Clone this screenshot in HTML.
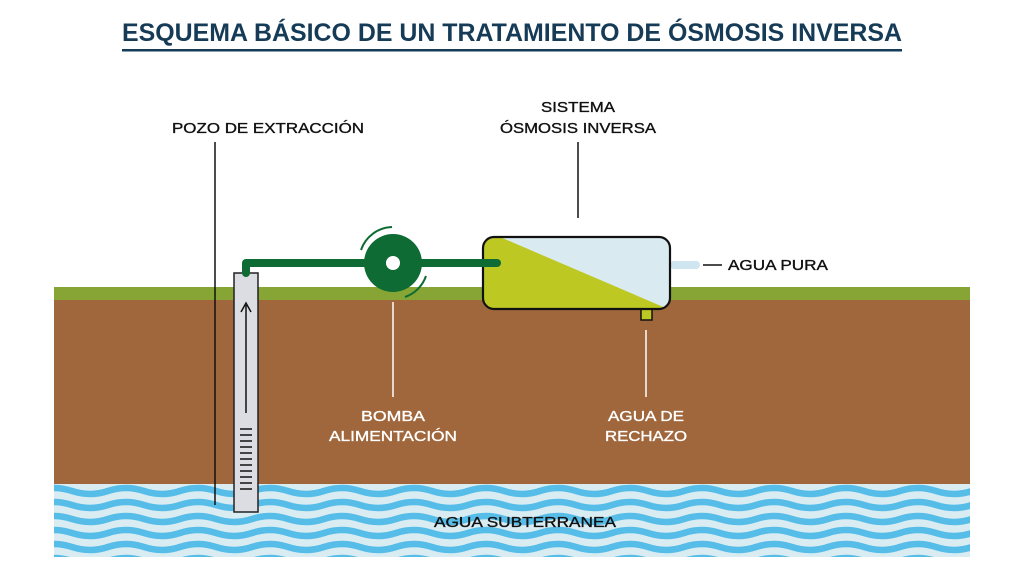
<!DOCTYPE html>
<html><head><meta charset="utf-8"><style>
body{margin:0;background:#fff}
svg{display:block}
text{font-family:"Liberation Sans",sans-serif}
.l{font-size:15px;stroke-width:0.35px}
</style></head><body>
<svg width="1024" height="576" viewBox="0 0 1024 576" xmlns="http://www.w3.org/2000/svg">
<defs>
<pattern id="wave" x="0" y="484" width="72" height="14" patternUnits="userSpaceOnUse">
<path d="M-36 7 Q-18 1 0 7 T36 7 T72 7 T108 7" fill="none" stroke="#56bce8" stroke-width="6.5"/>
</pattern>
</defs>
<text x="512" y="41" text-anchor="middle" font-size="25" font-weight="bold" fill="#163b57" textLength="780" lengthAdjust="spacingAndGlyphs">ESQUEMA BÁSICO DE UN TRATAMIENTO DE ÓSMOSIS INVERSA</text>
<rect x="122" y="49" width="780" height="2.5" fill="#163b57"/>

<rect x="54" y="287" width="916" height="13" fill="#86a534"/>
<rect x="54" y="300" width="916" height="184" fill="#a0673d"/>
<rect x="54" y="484" width="916" height="73" fill="#d9ecf2"/>
<rect x="54" y="484" width="916" height="73" fill="url(#wave)"/>

<text class="l" x="172" y="133" fill="#111" stroke="#111" textLength="192" lengthAdjust="spacingAndGlyphs">POZO DE EXTRACCIÓN</text>
<line x1="215" y1="142" x2="215" y2="505" stroke="#111" stroke-width="1.5"/>
<text class="l" x="578" y="112" fill="#111" stroke="#111" text-anchor="middle" textLength="74" lengthAdjust="spacingAndGlyphs">SISTEMA</text>
<text class="l" x="578" y="133" fill="#111" stroke="#111" text-anchor="middle" textLength="156" lengthAdjust="spacingAndGlyphs">ÓSMOSIS INVERSA</text>
<line x1="578" y1="142" x2="578" y2="218" stroke="#111" stroke-width="1.5"/>

<rect x="234" y="273" width="24" height="239" fill="#dcdce3" stroke="#222" stroke-width="1.5"/>
<line x1="246" y1="413" x2="246" y2="305" stroke="#111" stroke-width="1.5"/>
<path d="M241 312 L246 303 L251 312" fill="none" stroke="#111" stroke-width="1.5"/>
<g stroke="#111" stroke-width="1.5">
<line x1="240" y1="429" x2="252" y2="429"/><line x1="240" y1="435" x2="252" y2="435"/><line x1="240" y1="441" x2="252" y2="441"/><line x1="240" y1="447" x2="252" y2="447"/><line x1="240" y1="453" x2="252" y2="453"/><line x1="240" y1="459" x2="252" y2="459"/><line x1="240" y1="465" x2="252" y2="465"/><line x1="240" y1="471" x2="252" y2="471"/><line x1="240" y1="477" x2="252" y2="477"/><line x1="240" y1="483" x2="252" y2="483"/><line x1="240" y1="489" x2="252" y2="489"/>
</g>
<path d="M246 273 L246 263 L497 263" fill="none" stroke="#0e6b33" stroke-width="8" stroke-linejoin="round" stroke-linecap="round"/>
<circle cx="393" cy="263" r="29" fill="#0e6b33"/>
<circle cx="393" cy="263" r="7" fill="#fff"/>
<path d="M361 250 A34 34 0 0 1 392 227" fill="none" stroke="#0e6b33" stroke-width="2"/>
<path d="M426 276 A34 34 0 0 1 405 297" fill="none" stroke="#0e6b33" stroke-width="2"/>

<rect x="670" y="261" width="30" height="8" rx="4" fill="#cfe5f0"/>
<rect x="641" y="305" width="11" height="15" fill="#bcc823" stroke="#111" stroke-width="1.5"/>
<clipPath id="tc"><rect x="483" y="237" width="187" height="72" rx="11"/></clipPath>
<g clip-path="url(#tc)">
<rect x="483" y="237" width="187" height="72" fill="#d9ebf1"/>
<polygon points="483,237 500,237 668,309 483,309" fill="#bdc822"/>
</g>
<rect x="483" y="237" width="187" height="72" rx="11" fill="none" stroke="#111" stroke-width="2.2"/>
<path d="M465 263 L497 263" stroke="#0e6b33" stroke-width="8" stroke-linecap="round"/>
<line x1="703" y1="265" x2="722" y2="265" stroke="#111" stroke-width="1.5"/>
<text class="l" x="728" y="270" fill="#111" stroke="#111" textLength="100" lengthAdjust="spacingAndGlyphs">AGUA PURA</text>

<line x1="393" y1="302" x2="393" y2="397" stroke="#fff" stroke-width="1.5"/>
<text class="l" x="393" y="421" fill="#fff" stroke="#fff" text-anchor="middle" textLength="64" lengthAdjust="spacingAndGlyphs">BOMBA</text>
<text class="l" x="393" y="441" fill="#fff" stroke="#fff" text-anchor="middle" textLength="128" lengthAdjust="spacingAndGlyphs">ALIMENTACIÓN</text>
<line x1="646" y1="330" x2="646" y2="397" stroke="#fff" stroke-width="1.5"/>
<text class="l" x="646" y="421" fill="#fff" stroke="#fff" text-anchor="middle" textLength="76" lengthAdjust="spacingAndGlyphs">AGUA DE</text>
<text class="l" x="646" y="441" fill="#fff" stroke="#fff" text-anchor="middle" textLength="82" lengthAdjust="spacingAndGlyphs">RECHAZO</text>

<text class="l" x="525" y="527" fill="#111" stroke="#111" text-anchor="middle" textLength="182" lengthAdjust="spacingAndGlyphs">AGUA SUBTERRANEA</text>
</svg>
</body></html>
